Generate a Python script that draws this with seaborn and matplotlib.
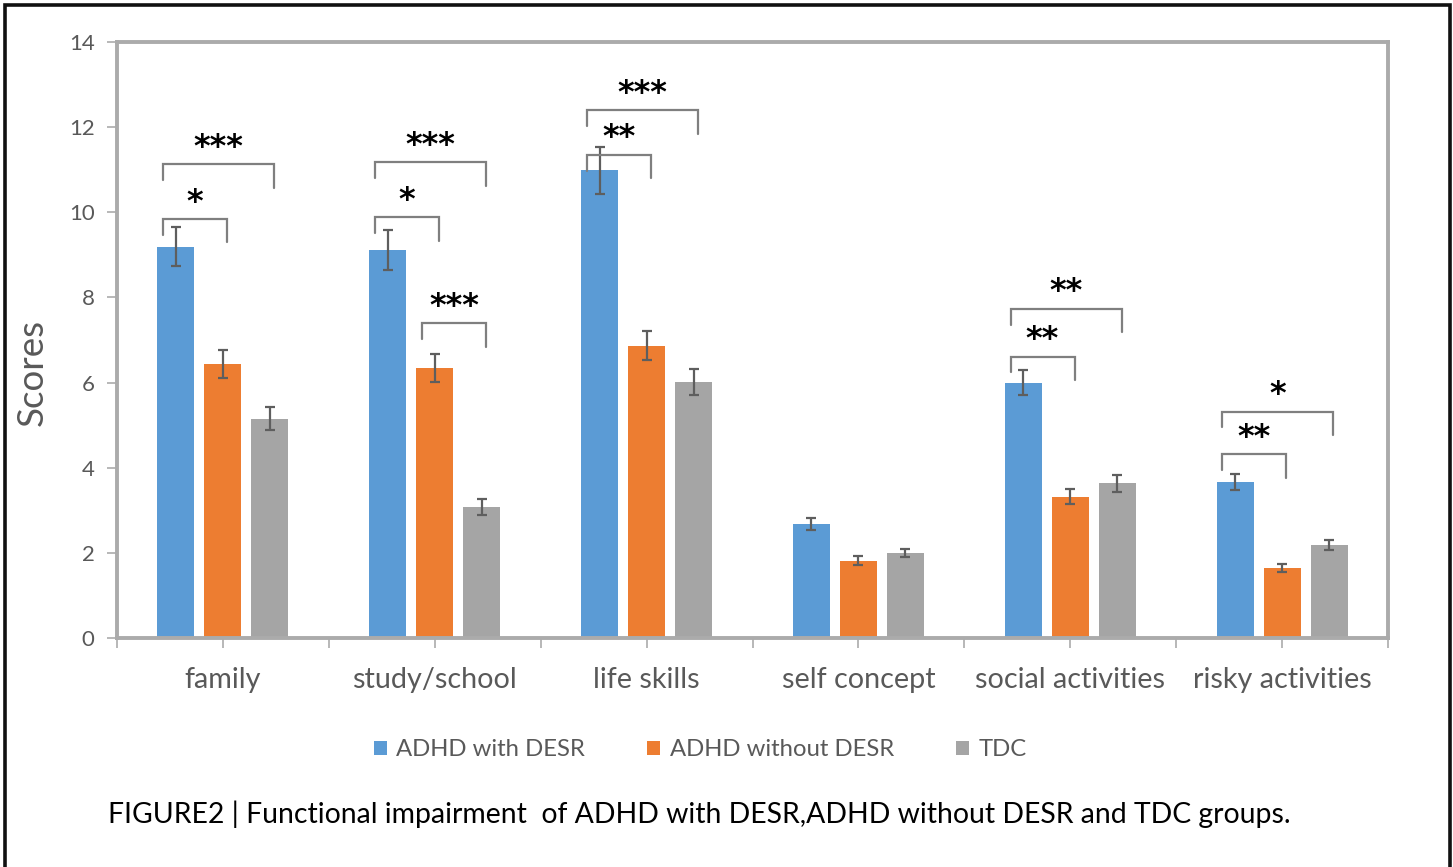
import numpy as np
import pandas as pd
import matplotlib
matplotlib.use("Agg")
import matplotlib.pyplot as plt
from matplotlib.patches import Patch, Rectangle
import seaborn as sns

# ---- data -------------------------------------------------------------
domains = ["family", "study/school", "life skills", "self concept",
           "social activities", "risky activities"]
groups = ["ADHD with DESR", "ADHD without DESR", "TDC"]

adhd_desr_mean = [9.19, 9.11, 10.99, 2.67, 6.00, 3.66]
adhd_nodesr_mean = [6.44, 6.35, 6.86, 1.82, 3.32, 1.64]
tdc_mean = [5.15, 3.08, 6.02, 2.00, 3.63, 2.18]

adhd_desr_se = [0.46, 0.47, 0.55, 0.14, 0.30, 0.19]
adhd_nodesr_se = [0.33, 0.33, 0.34, 0.10, 0.17, 0.09]
tdc_se = [0.27, 0.18, 0.31, 0.10, 0.20, 0.12]

# significance brackets: (domain index, group a, group b, bracket level, label)
brackets = [
    (0, 0, 1, 9.84, "*"), (0, 0, 2, 11.13, "***"),
    (1, 0, 1, 9.88, "*"), (1, 0, 2, 11.17, "***"), (1, 1, 2, 7.39, "***"),
    (2, 0, 1, 11.35, "**"), (2, 0, 2, 12.40, "***"),
    (4, 0, 1, 6.61, "**"), (4, 0, 2, 7.73, "**"),
    (5, 0, 1, 4.32, "**"), (5, 0, 2, 5.32, "*"),
]

caption = ("FIGURE2 | Functional impairment  of ADHD with DESR,"
           "ADHD without DESR and TDC groups.")

# ---- styling ----------------------------------------------------------
sns.set_theme(style="white")
plt.rcParams["font.family"] = ["Lato", "DejaVu Sans"]

colors = ["#5B9BD5", "#ED7D31", "#A5A5A5"]
frame_gray = "#ABABAB"
text_gray = "#595959"

means = [adhd_desr_mean, adhd_nodesr_mean, tdc_mean]
errs = [adhd_desr_se, adhd_nodesr_se, tdc_se]
df = pd.DataFrame({
    "domain": np.repeat([domains], 3, axis=0).ravel(),
    "group": np.repeat(groups, len(domains)),
    "score": np.concatenate(means),
})

fig = plt.figure(figsize=(14.53, 8.67), dpi=100)
ax = fig.add_axes([0.0805, 0.2641, 0.8748, 0.6875])

sns.barplot(data=df, x="domain", y="score", hue="group", order=domains,
            hue_order=groups, palette=colors, saturation=1, width=0.666,
            gap=0.21, errorbar=None, legend=False, ax=ax, linewidth=0)

# error bars placed on the drawn bars
bar_containers = list(ax.containers)
centers = []
for ci, container in enumerate(bar_containers):
    xs = [p.get_x() + p.get_width() / 2 for p in container.patches]
    hs = [p.get_height() for p in container.patches]
    centers.append(xs)
    ax.errorbar(xs, hs, yerr=errs[ci], fmt="none", ecolor="#5E5E5E",
                elinewidth=1.6, capsize=3.3, capthick=1.6, zorder=3)

# significance brackets
for d, a, b, level, label in brackets:
    x0 = centers[a][d] - 0.06
    x1 = centers[b][d] + 0.02
    ax.plot([x0, x0, x1, x1], [level - 0.37, level, level, level - 0.55],
            color="#7F7F7F", lw=1.6, solid_joinstyle="miter", zorder=4,
            clip_on=False)
    ax.text((x0 + x1) / 2, level + 0.40, label, ha="center", va="center",
            fontsize=23, fontweight="bold", color="black",
            family="DejaVu Sans")

# axes limits, ticks, frame
ax.set_ylim(0, 14)
ax.set_xlim(-0.5, len(domains) - 0.5)
ax.set_yticks(np.arange(0, 15, 2))
ax.set_xticks(np.arange(-0.5, len(domains), 1.0))
ax.set_xticklabels([])
ax.set_xticks(np.arange(len(domains)), minor=True)
ax.set_xticklabels(domains, minor=True, fontsize=20.7, color=text_gray)
ax.tick_params(axis="x", which="both", direction="out", length=7,
               width=1.2, color=frame_gray, pad=14, bottom=True)
ax.tick_params(axis="y", direction="out", length=7, width=1.2,
               color=frame_gray, labelsize=16, labelcolor=text_gray,
               pad=9, left=True)
for sp in ax.spines.values():
    sp.set_visible(True)
    sp.set_color(frame_gray)
    sp.set_linewidth(2.8)
ax.set_xlabel("")
ax.set_ylabel("Scores", fontsize=26.5, color=text_gray)
ax.yaxis.set_label_coords(-0.054, 0.445)
ax.grid(False)

# legend below the plot
handles = [Patch(facecolor=c, edgecolor="none") for c in colors]
fig.legend(handles, groups, loc="center", bbox_to_anchor=(0.482, 0.135),
           ncol=3, frameon=False, fontsize=17.2, handlelength=0.55,
           handleheight=0.55, handletextpad=0.4, columnspacing=2.6,
           labelcolor=text_gray)

# caption
fig.text(0.0745, 0.061, caption, fontsize=20.4, color="black",
         ha="left", va="center")

# outer frame around the figure panel
fig.add_artist(Rectangle((5 / 1453, -0.05), 1445 / 1453, 1.05 - 5 / 867,
                         transform=fig.transFigure, fill=False,
                         edgecolor="#111111", linewidth=2.6, clip_on=False))

fig.savefig("out.png", dpi=100, facecolor="white")
